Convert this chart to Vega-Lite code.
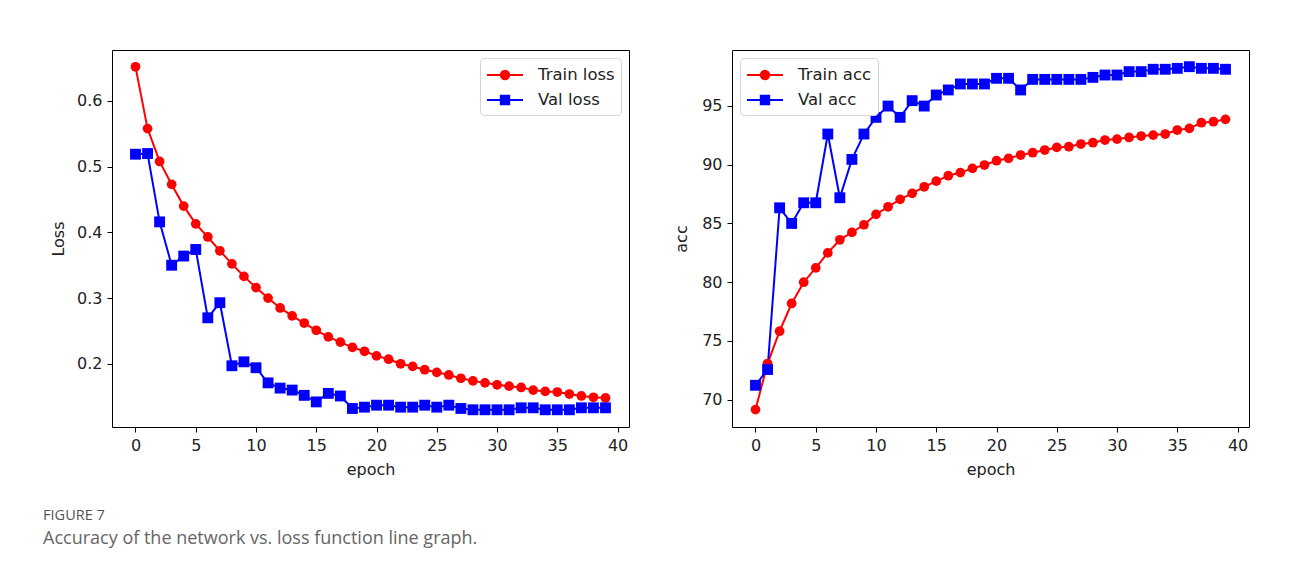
{
  "$schema": "https://vega.github.io/schema/vega-lite/v6.json",
  "background": "white",
  "padding": {"left": 43, "top": 49, "right": 10, "bottom": 10},
  "spacing": 43,
  "title": {
    "text": "FIGURE 7",
    "subtitle": "Accuracy of the network vs. loss function line graph.",
    "orient": "bottom",
    "anchor": "start",
    "offset": 31,
    "dx": -7,
    "font": "Open Sans",
    "fontSize": 14.5,
    "fontWeight": "normal",
    "color": "#555555",
    "subtitleFont": "Open Sans",
    "subtitleFontSize": 18,
    "subtitleColor": "#666666",
    "subtitlePadding": 7
  },
  "datasets": {
    "loss": [
      {"epoch": 0, "series": "Train loss", "value": 0.652},
      {"epoch": 1, "series": "Train loss", "value": 0.558},
      {"epoch": 2, "series": "Train loss", "value": 0.508},
      {"epoch": 3, "series": "Train loss", "value": 0.473},
      {"epoch": 4, "series": "Train loss", "value": 0.440},
      {"epoch": 5, "series": "Train loss", "value": 0.413},
      {"epoch": 6, "series": "Train loss", "value": 0.393},
      {"epoch": 7, "series": "Train loss", "value": 0.372},
      {"epoch": 8, "series": "Train loss", "value": 0.352},
      {"epoch": 9, "series": "Train loss", "value": 0.333},
      {"epoch": 10, "series": "Train loss", "value": 0.316},
      {"epoch": 11, "series": "Train loss", "value": 0.300},
      {"epoch": 12, "series": "Train loss", "value": 0.285},
      {"epoch": 13, "series": "Train loss", "value": 0.273},
      {"epoch": 14, "series": "Train loss", "value": 0.262},
      {"epoch": 15, "series": "Train loss", "value": 0.251},
      {"epoch": 16, "series": "Train loss", "value": 0.241},
      {"epoch": 17, "series": "Train loss", "value": 0.233},
      {"epoch": 18, "series": "Train loss", "value": 0.225},
      {"epoch": 19, "series": "Train loss", "value": 0.219},
      {"epoch": 20, "series": "Train loss", "value": 0.212},
      {"epoch": 21, "series": "Train loss", "value": 0.207},
      {"epoch": 22, "series": "Train loss", "value": 0.200},
      {"epoch": 23, "series": "Train loss", "value": 0.196},
      {"epoch": 24, "series": "Train loss", "value": 0.191},
      {"epoch": 25, "series": "Train loss", "value": 0.187},
      {"epoch": 26, "series": "Train loss", "value": 0.183},
      {"epoch": 27, "series": "Train loss", "value": 0.178},
      {"epoch": 28, "series": "Train loss", "value": 0.174},
      {"epoch": 29, "series": "Train loss", "value": 0.171},
      {"epoch": 30, "series": "Train loss", "value": 0.168},
      {"epoch": 31, "series": "Train loss", "value": 0.166},
      {"epoch": 32, "series": "Train loss", "value": 0.164},
      {"epoch": 33, "series": "Train loss", "value": 0.160},
      {"epoch": 34, "series": "Train loss", "value": 0.158},
      {"epoch": 35, "series": "Train loss", "value": 0.157},
      {"epoch": 36, "series": "Train loss", "value": 0.154},
      {"epoch": 37, "series": "Train loss", "value": 0.151},
      {"epoch": 38, "series": "Train loss", "value": 0.149},
      {"epoch": 39, "series": "Train loss", "value": 0.148},
      {"epoch": 0, "series": "Val loss", "value": 0.519},
      {"epoch": 1, "series": "Val loss", "value": 0.520},
      {"epoch": 2, "series": "Val loss", "value": 0.416},
      {"epoch": 3, "series": "Val loss", "value": 0.350},
      {"epoch": 4, "series": "Val loss", "value": 0.364},
      {"epoch": 5, "series": "Val loss", "value": 0.374},
      {"epoch": 6, "series": "Val loss", "value": 0.270},
      {"epoch": 7, "series": "Val loss", "value": 0.293},
      {"epoch": 8, "series": "Val loss", "value": 0.197},
      {"epoch": 9, "series": "Val loss", "value": 0.203},
      {"epoch": 10, "series": "Val loss", "value": 0.194},
      {"epoch": 11, "series": "Val loss", "value": 0.171},
      {"epoch": 12, "series": "Val loss", "value": 0.163},
      {"epoch": 13, "series": "Val loss", "value": 0.160},
      {"epoch": 14, "series": "Val loss", "value": 0.152},
      {"epoch": 15, "series": "Val loss", "value": 0.142},
      {"epoch": 16, "series": "Val loss", "value": 0.155},
      {"epoch": 17, "series": "Val loss", "value": 0.151},
      {"epoch": 18, "series": "Val loss", "value": 0.132},
      {"epoch": 19, "series": "Val loss", "value": 0.134},
      {"epoch": 20, "series": "Val loss", "value": 0.137},
      {"epoch": 21, "series": "Val loss", "value": 0.137},
      {"epoch": 22, "series": "Val loss", "value": 0.134},
      {"epoch": 23, "series": "Val loss", "value": 0.134},
      {"epoch": 24, "series": "Val loss", "value": 0.137},
      {"epoch": 25, "series": "Val loss", "value": 0.134},
      {"epoch": 26, "series": "Val loss", "value": 0.137},
      {"epoch": 27, "series": "Val loss", "value": 0.132},
      {"epoch": 28, "series": "Val loss", "value": 0.130},
      {"epoch": 29, "series": "Val loss", "value": 0.130},
      {"epoch": 30, "series": "Val loss", "value": 0.130},
      {"epoch": 31, "series": "Val loss", "value": 0.130},
      {"epoch": 32, "series": "Val loss", "value": 0.133},
      {"epoch": 33, "series": "Val loss", "value": 0.133},
      {"epoch": 34, "series": "Val loss", "value": 0.130},
      {"epoch": 35, "series": "Val loss", "value": 0.130},
      {"epoch": 36, "series": "Val loss", "value": 0.130},
      {"epoch": 37, "series": "Val loss", "value": 0.133},
      {"epoch": 38, "series": "Val loss", "value": 0.133},
      {"epoch": 39, "series": "Val loss", "value": 0.133}
    ],
    "acc": [
      {"epoch": 0, "series": "Train acc", "value": 69.15},
      {"epoch": 1, "series": "Train acc", "value": 73.07},
      {"epoch": 2, "series": "Train acc", "value": 75.82},
      {"epoch": 3, "series": "Train acc", "value": 78.18},
      {"epoch": 4, "series": "Train acc", "value": 79.99},
      {"epoch": 5, "series": "Train acc", "value": 81.21},
      {"epoch": 6, "series": "Train acc", "value": 82.49},
      {"epoch": 7, "series": "Train acc", "value": 83.6},
      {"epoch": 8, "series": "Train acc", "value": 84.23},
      {"epoch": 9, "series": "Train acc", "value": 84.88},
      {"epoch": 10, "series": "Train acc", "value": 85.76},
      {"epoch": 11, "series": "Train acc", "value": 86.41},
      {"epoch": 12, "series": "Train acc", "value": 87.04},
      {"epoch": 13, "series": "Train acc", "value": 87.55},
      {"epoch": 14, "series": "Train acc", "value": 88.11},
      {"epoch": 15, "series": "Train acc", "value": 88.59},
      {"epoch": 16, "series": "Train acc", "value": 89.05},
      {"epoch": 17, "series": "Train acc", "value": 89.32},
      {"epoch": 18, "series": "Train acc", "value": 89.68},
      {"epoch": 19, "series": "Train acc", "value": 89.96},
      {"epoch": 20, "series": "Train acc", "value": 90.33},
      {"epoch": 21, "series": "Train acc", "value": 90.53},
      {"epoch": 22, "series": "Train acc", "value": 90.81},
      {"epoch": 23, "series": "Train acc", "value": 91.01},
      {"epoch": 24, "series": "Train acc", "value": 91.24},
      {"epoch": 25, "series": "Train acc", "value": 91.46},
      {"epoch": 26, "series": "Train acc", "value": 91.52},
      {"epoch": 27, "series": "Train acc", "value": 91.75},
      {"epoch": 28, "series": "Train acc", "value": 91.86},
      {"epoch": 29, "series": "Train acc", "value": 92.09},
      {"epoch": 30, "series": "Train acc", "value": 92.17},
      {"epoch": 31, "series": "Train acc", "value": 92.31},
      {"epoch": 32, "series": "Train acc", "value": 92.43},
      {"epoch": 33, "series": "Train acc", "value": 92.51},
      {"epoch": 34, "series": "Train acc", "value": 92.60},
      {"epoch": 35, "series": "Train acc", "value": 92.94},
      {"epoch": 36, "series": "Train acc", "value": 93.08},
      {"epoch": 37, "series": "Train acc", "value": 93.56},
      {"epoch": 38, "series": "Train acc", "value": 93.65},
      {"epoch": 39, "series": "Train acc", "value": 93.85},
      {"epoch": 0, "series": "Val acc", "value": 71.22},
      {"epoch": 1, "series": "Val acc", "value": 72.56},
      {"epoch": 2, "series": "Val acc", "value": 86.32},
      {"epoch": 3, "series": "Val acc", "value": 84.99},
      {"epoch": 4, "series": "Val acc", "value": 86.75},
      {"epoch": 5, "series": "Val acc", "value": 86.75},
      {"epoch": 6, "series": "Val acc", "value": 92.60},
      {"epoch": 7, "series": "Val acc", "value": 87.18},
      {"epoch": 8, "series": "Val acc", "value": 90.44},
      {"epoch": 9, "series": "Val acc", "value": 92.60},
      {"epoch": 10, "series": "Val acc", "value": 94.02},
      {"epoch": 11, "series": "Val acc", "value": 94.98},
      {"epoch": 12, "series": "Val acc", "value": 94.02},
      {"epoch": 13, "series": "Val acc", "value": 95.44},
      {"epoch": 14, "series": "Val acc", "value": 94.98},
      {"epoch": 15, "series": "Val acc", "value": 95.92},
      {"epoch": 16, "series": "Val acc", "value": 96.35},
      {"epoch": 17, "series": "Val acc", "value": 96.86},
      {"epoch": 18, "series": "Val acc", "value": 96.86},
      {"epoch": 19, "series": "Val acc", "value": 96.86},
      {"epoch": 20, "series": "Val acc", "value": 97.34},
      {"epoch": 21, "series": "Val acc", "value": 97.34},
      {"epoch": 22, "series": "Val acc", "value": 96.35},
      {"epoch": 23, "series": "Val acc", "value": 97.25},
      {"epoch": 24, "series": "Val acc", "value": 97.25},
      {"epoch": 25, "series": "Val acc", "value": 97.25},
      {"epoch": 26, "series": "Val acc", "value": 97.25},
      {"epoch": 27, "series": "Val acc", "value": 97.25},
      {"epoch": 28, "series": "Val acc", "value": 97.42},
      {"epoch": 29, "series": "Val acc", "value": 97.62},
      {"epoch": 30, "series": "Val acc", "value": 97.62},
      {"epoch": 31, "series": "Val acc", "value": 97.91},
      {"epoch": 32, "series": "Val acc", "value": 97.91},
      {"epoch": 33, "series": "Val acc", "value": 98.11},
      {"epoch": 34, "series": "Val acc", "value": 98.11},
      {"epoch": 35, "series": "Val acc", "value": 98.19},
      {"epoch": 36, "series": "Val acc", "value": 98.33},
      {"epoch": 37, "series": "Val acc", "value": 98.19},
      {"epoch": 38, "series": "Val acc", "value": 98.19},
      {"epoch": 39, "series": "Val acc", "value": 98.11}
    ]
  },
  "hconcat": [
    {
      "width": 517,
      "height": 377,
      "data": {"name": "loss"},
      "encoding": {
        "x": {"field": "epoch", "type": "quantitative", "title": "epoch",
              "scale": {"domain": [-1.95, 40.95], "nice": false, "zero": false},
              "axis": {"values": [0, 5, 10, 15, 20, 25, 30, 35, 40]}},
        "y": {"field": "value", "type": "quantitative", "title": "Loss",
              "scale": {"domain": [0.1038, 0.6776], "nice": false, "zero": false},
              "axis": {"values": [0.2, 0.3, 0.4, 0.5, 0.6], "format": ".1f", "titlePadding": 10}}
      },
      "layer": [
        {
          "mark": {"type": "line", "strokeWidth": 2},
          "encoding": {
            "color": {"field": "series", "type": "nominal",
              "scale": {"domain": ["Train loss", "Val loss"], "range": ["#ff0000", "#0000ff"]},
              "legend": {
                "title": null, "orient": "top-right", "offset": 8,
                "encode": {"symbols": {"update": {
                  "shape": {"signal": "datum.value === 'Train loss' ? 'M-1,0H2.6M1.22,0A0.42,0.42 0 1,1 0.38,0A0.42,0.42 0 1,1 1.22,0Z' : 'M-1,0H2.6M0.38,-0.42H1.22V0.42H0.38Z'"},
                  "fill": {"signal": "datum.value === 'Train loss' ? '#ff0000' : '#0000ff'"},
                  "stroke": {"signal": "datum.value === 'Train loss' ? '#ff0000' : '#0000ff'"},
                  "strokeWidth": {"value": 2},
                  "opacity": {"value": 1},
                  "fillOpacity": {"value": 1},
                  "size": {"value": 400}
                }}}
              }}
          }
        },
        {
          "transform": [{"filter": "datum.series === 'Train loss'"}],
          "mark": {"type": "point", "filled": true, "opacity": 1, "shape": "circle", "size": 95, "color": "#ff0000"}
        },
        {
          "transform": [{"filter": "datum.series === 'Val loss'"}],
          "mark": {"type": "point", "filled": true, "opacity": 1, "shape": "square", "size": 118, "color": "#0000ff"}
        }
      ]
    },
    {
      "width": 517,
      "height": 377,
      "data": {"name": "acc"},
      "encoding": {
        "x": {"field": "epoch", "type": "quantitative", "title": "epoch",
              "scale": {"domain": [-1.95, 40.95], "nice": false, "zero": false},
              "axis": {"values": [0, 5, 10, 15, 20, 25, 30, 35, 40]}},
        "y": {"field": "value", "type": "quantitative", "title": "acc",
              "scale": {"domain": [67.67, 99.75], "nice": false, "zero": false},
              "axis": {"values": [70, 75, 80, 85, 90, 95], "titlePadding": 12}}
      },
      "layer": [
        {
          "mark": {"type": "line", "strokeWidth": 2},
          "encoding": {
            "color": {"field": "series", "type": "nominal",
              "scale": {"domain": ["Train acc", "Val acc"], "range": ["#ff0000", "#0000ff"]},
              "legend": {
                "title": null, "orient": "top-left", "offset": 8,
                "encode": {"symbols": {"update": {
                  "shape": {"signal": "datum.value === 'Train acc' ? 'M-1,0H2.6M1.22,0A0.42,0.42 0 1,1 0.38,0A0.42,0.42 0 1,1 1.22,0Z' : 'M-1,0H2.6M0.38,-0.42H1.22V0.42H0.38Z'"},
                  "fill": {"signal": "datum.value === 'Train acc' ? '#ff0000' : '#0000ff'"},
                  "stroke": {"signal": "datum.value === 'Train acc' ? '#ff0000' : '#0000ff'"},
                  "strokeWidth": {"value": 2},
                  "opacity": {"value": 1},
                  "fillOpacity": {"value": 1},
                  "size": {"value": 400}
                }}}
              }}
          }
        },
        {
          "transform": [{"filter": "datum.series === 'Train acc'"}],
          "mark": {"type": "point", "filled": true, "opacity": 1, "shape": "circle", "size": 95, "color": "#ff0000"}
        },
        {
          "transform": [{"filter": "datum.series === 'Val acc'"}],
          "mark": {"type": "point", "filled": true, "opacity": 1, "shape": "square", "size": 118, "color": "#0000ff"}
        }
      ]
    }
  ],
  "resolve": {"scale": {"color": "independent", "x": "independent", "y": "independent"}},
  "config": {
    "view": {"stroke": "#000000", "strokeWidth": 1},
    "font": "DejaVu Sans",
    "axis": {
      "domain": false,
      "grid": false,
      "ticks": true,
      "tickColor": "#000000",
      "tickSize": 5,
      "tickWidth": 1,
      "labelFont": "DejaVu Sans",
      "labelFontSize": 16,
      "labelColor": "#222222",
      "labelPadding": 5,
      "titleFont": "DejaVu Sans",
      "titleFontSize": 16,
      "titleFontWeight": "normal",
      "titleColor": "#222222"
    },
    "axisX": {"titlePadding": 8, "labelFlush": false},
    "axisY": {"labelFlush": false},
    "legend": {
      "labelFont": "DejaVu Sans",
      "labelFontSize": 16.5,
      "labelColor": "#222222",
      "labelOffset": 30,
      "symbolSize": 400,
      "symbolStrokeWidth": 2,
      "padding": 6,
      "rowPadding": 5,
      "strokeColor": "#d5d5d5",
      "fillColor": "#ffffff",
      "cornerRadius": 4
    }
  }
}
